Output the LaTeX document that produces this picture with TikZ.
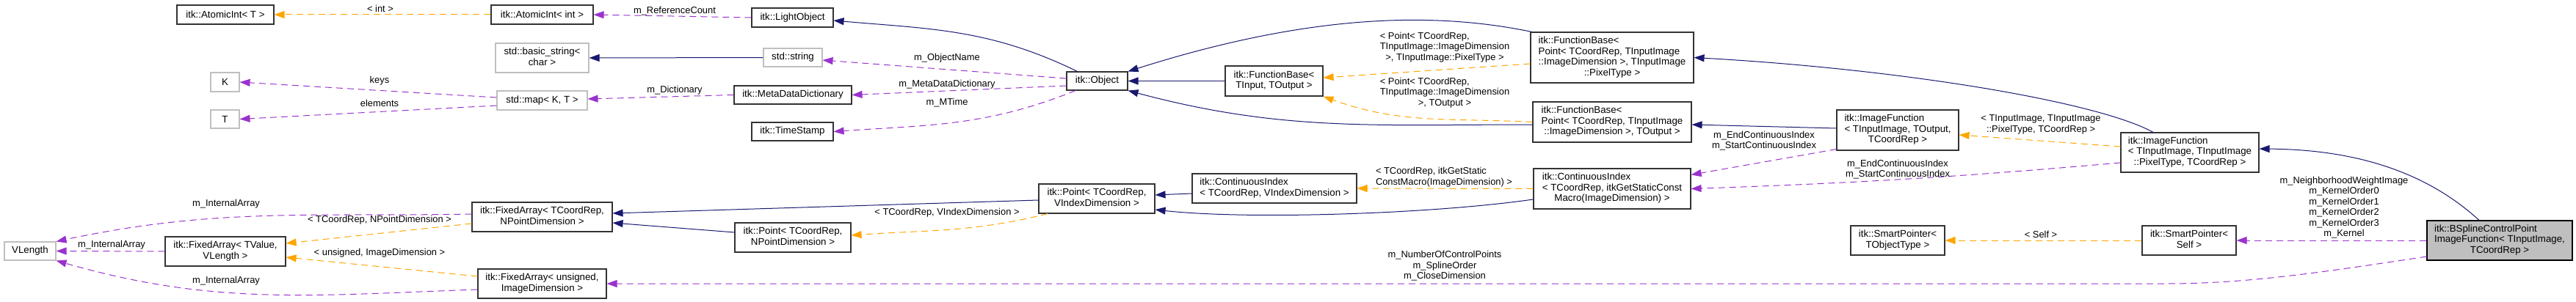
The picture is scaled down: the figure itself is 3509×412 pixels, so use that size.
\documentclass[tikz,border=0pt]{standalone}
\usepackage{fontspec}
\setmainfont{Liberation Sans}
\usetikzlibrary{arrows.meta}
\definecolor{edgeblue}{HTML}{191970}
\definecolor{edgepurple}{HTML}{9A32CD}
\definecolor{edgeorange}{HTML}{FFA500}
\definecolor{boxgray}{HTML}{BFBFBF}
\newcommand{\dlines}[1]{\begin{tabular}{@{}l@{}}#1\end{tabular}}
\newcommand{\dlast}[1]{\multicolumn{1}{@{}c@{}}{#1}}

\begin{document}
\begin{tikzpicture}[x=1pt,y=1pt]
\tikzstyle{every node}+=[inner sep=0pt]
\tikzstyle{cls}=[draw=black!80,line width=1.1pt,fill=white,font=\fontsize{13.3}{14.5}\selectfont]
\tikzstyle{ext}=[cls,draw=boxgray]
\tikzstyle{cur}=[cls,draw=black,fill=boxgray]
\tikzstyle{lbl}=[font=\fontsize{12.9}{14.5}\selectfont,align=center]
\tikzstyle{inherit}=[color=edgeblue,line width=1pt,-{Triangle[length=14pt,width=10pt]}]
\tikzstyle{member}=[color=edgepurple,line width=1pt,dash pattern=on 9pt off 6pt,-{Triangle[length=14pt,width=10pt]}]
\tikzstyle{templ}=[color=edgeorange,line width=1pt,dash pattern=on 9pt off 6pt,-{Triangle[length=14pt,width=10pt]}]
\useasboundingbox (0,0) rectangle (3509,-412);
\node [cls,minimum width=132pt,minimum height=26pt] (atomT) at (307,-20) {itk::AtomicInt< T >};
\node [cls,minimum width=139pt,minimum height=26pt] (atomInt) at (738.5,-20) {itk::AtomicInt< int >};
\node [cls,minimum width=111pt,minimum height=26pt] (light) at (1079.5,-24) {itk::LightObject};
\node [ext,minimum width=39pt,minimum height=26pt] (K) at (306.5,-112) {K};
\node [ext,minimum width=39pt,minimum height=25pt] (Tn) at (306.5,-162.5) {T};
\node [ext,minimum width=127pt,minimum height=40pt] (bstring) at (738.5,-79) {\dlines{std::basic\_string<\\ \dlast{char >}}};
\node [ext,minimum width=123pt,minimum height=26pt] (smap) at (738.5,-137) {std::map< K, T >};
\node [ext,minimum width=80pt,minimum height=25pt] (sstring) at (1080,-78.5) {std::string};
\node [cls,minimum width=160pt,minimum height=25pt] (mdd) at (1080,-129.5) {itk::MetaDataDictionary};
\node [cls,minimum width=111pt,minimum height=25pt] (tstamp) at (1079.5,-179.5) {itk::TimeStamp};
\node [cls,minimum width=83pt,minimum height=25pt] (obj) at (1494.5,-110.5) {itk::Object};
\node [cls,minimum width=133pt,minimum height=41pt] (fbase) at (1735.5,-110.5) {\dlines{itk::FunctionBase<\\ \dlast{TInput, TOutput >}}};
\node [cls,minimum width=222pt,minimum height=69pt] (fbPix) at (2196,-78.5) {\dlines{itk::FunctionBase<\\ Point< TCoordRep, TInputImage\\ ::ImageDimension >, TInputImage\\ \dlast{::PixelType >}}};
\node [cls,minimum width=216pt,minimum height=55pt] (fbOut) at (2196,-166.5) {\dlines{itk::FunctionBase<\\ Point< TCoordRep, TInputImage\\ \dlast{::ImageDimension >, TOutput >}}};
\node [cls,minimum width=224pt,minimum height=40pt] (cidxV) at (1736,-257) {\dlines{itk::ContinuousIndex\\ \dlast{< TCoordRep, VIndexDimension >}}};
\node [cls,minimum width=214pt,minimum height=55pt] (cidxG) at (2196,-257.5) {\dlines{itk::ContinuousIndex\\ < TCoordRep, itkGetStaticConst\\ \dlast{Macro(ImageDimension) >}}};
\node [cls,minimum width=166pt,minimum height=55pt] (imgfOut) at (2585,-177.5) {\dlines{itk::ImageFunction\\ < TInputImage, TOutput,\\ \dlast{TCoordRep >}}};
\node [cls,minimum width=188pt,minimum height=54pt] (imgfPix) at (2983,-208) {\dlines{itk::ImageFunction\\ < TInputImage, TInputImage\\ \dlast{::PixelType, TCoordRep >}}};
\node [cls,minimum width=128pt,minimum height=40pt] (spT) at (2585,-328) {\dlines{itk::SmartPointer<\\ \dlast{TObjectType >}}};
\node [cls,minimum width=128pt,minimum height=40pt] (spSelf) at (2982,-328) {\dlines{itk::SmartPointer<\\ \dlast{Self >}}};
\node [cur,minimum width=198pt,minimum height=54pt] (bspline) at (3405,-328) {\dlines{itk::BSplineControlPoint\\ ImageFunction< TInputImage,\\ \dlast{TCoordRep >}}};
\node [cls,minimum width=158pt,minimum height=40pt] (ptV) at (1494,-271) {\dlines{itk::Point< TCoordRep,\\ \dlast{VIndexDimension >}}};
\node [cls,minimum width=158pt,minimum height=40pt] (ptN) at (1080,-324) {\dlines{itk::Point< TCoordRep,\\ \dlast{NPointDimension >}}};
\node [cls,minimum width=191pt,minimum height=40pt] (faN) at (738.5,-296) {\dlines{itk::FixedArray< TCoordRep,\\ \dlast{NPointDimension >}}};
\node [cls,minimum width=175pt,minimum height=40pt] (faU) at (738.5,-387) {\dlines{itk::FixedArray< unsigned,\\ \dlast{ImageDimension >}}};
\node [cls,minimum width=164pt,minimum height=40pt] (faV) at (307,-343) {\dlines{itk::FixedArray< TValue,\\ \dlast{VLength >}}};
\node [ext,minimum width=70pt,minimum height=25pt] (vlen) at (41,-342.5) {VLength};
\draw [templ] (atomInt.west) -- (atomT.east);
\draw [member] (light.west) -- (atomInt.east);
\draw [inherit] ([xshift=-27pt]obj.north) to[out=154,in=-5] ([yshift=-4pt]light.east);
\draw [member] ([yshift=3.5pt]obj.west) -- ([yshift=-3.5pt]sstring.east);
\draw [inherit] (sstring.west) -- (bstring.east);
\draw [member] ([yshift=-6.5pt]obj.west) -- (mdd.east);
\draw [member] (mdd.west) -- ([yshift=2pt]smap.east);
\draw [member] ([yshift=4pt]smap.west) -- (K.east);
\draw [member] ([yshift=-7pt]smap.west) -- (Tn.east);
\draw [member] ([xshift=-29.5pt]obj.south) to[out=202,in=4] (tstamp.east);
\draw [inherit] (fbase.west) -- (obj.east);
\draw [inherit] ([xshift=2pt]fbPix.north west) .. controls (1950,-15) and (1780,-20) .. (obj.north east);
\draw [inherit] ([yshift=-3.5pt]fbOut.west) to[out=180,in=-15] (obj.south east);
\draw [templ] ([yshift=-8.5pt]fbPix.west) -- ([yshift=4.5pt]fbase.east);
\draw [templ] (fbOut.west) to[out=177,in=-20] (fbase.south east);
\draw [inherit] ([yshift=2.5pt]imgfOut.west) -- ([yshift=-3.5pt]fbOut.east);
\draw [member] ([yshift=2pt]imgfOut.south west) -- ([yshift=-9pt]cidxG.north east);
\draw [templ] ([yshift=8pt]imgfPix.west) -- ([yshift=-6.5pt]imgfOut.east);
\draw [member] ([yshift=-14pt]imgfPix.west) to[out=185,in=2] (cidxG.east);
\draw [inherit] ([xshift=-50pt]imgfPix.north) .. controls (2860,-140) and (2600,-95) .. (fbPix.east);
\draw [inherit] ([xshift=-28pt]bspline.north) .. controls (3300,-230) and (3200,-204) .. ([yshift=5pt]imgfPix.east);
\draw [member] (bspline.west) -- (spSelf.east);
\draw [templ] (spSelf.west) -- (spT.east);
\draw [member] ([yshift=-22pt]bspline.west) .. controls (3160,-372) and (3060,-387) .. (2950,-387) -- (faU.east);
\draw [templ] (cidxG.west) -- (cidxV.east);
\draw [inherit] ([yshift=-7pt]cidxV.west) -- ([yshift=5pt]ptV.east);
\draw [inherit] ([yshift=-14.5pt]cidxG.west) .. controls (1950,-292) and (1700,-300) .. ([yshift=-15pt]ptV.east);
\draw [inherit] ([yshift=-2pt]ptV.west) -- ([yshift=5pt]faN.east);
\draw [inherit] ([yshift=7pt]ptN.west) -- ([yshift=-8pt]faN.east);
\draw [templ] ([xshift=-67pt]ptV.south) to[out=194,in=4] ([yshift=3pt]ptN.east);
\draw [templ] ([yshift=-9pt]faN.west) -- ([yshift=11pt]faV.east);
\draw [templ] ([yshift=10pt]faU.west) -- ([yshift=-8pt]faV.east);
\draw [member] ([yshift=4pt]faN.west) to[out=181,in=12] (vlen.north east);
\draw [member] (faV.west) -- (vlen.east);
\draw [member] ([yshift=-8pt]faU.west) to[out=182,in=-16] (vlen.south east);
\node [lbl] (lInt) at (518,-12) {< int >};
\node [lbl] (lRef) at (919,-15) {m\_ReferenceCount};
\node [lbl] (lName) at (1290,-79) {m\_ObjectName};
\node [lbl] (lMdd) at (1290,-115) {m\_MetaDataDictionary};
\node [lbl] (lTime) at (1290,-140) {m\_MTime};
\node [lbl] (lDict) at (919,-123) {m\_Dictionary};
\node [lbl] (lKeys) at (517,-110) {keys};
\node [lbl] (lElem) at (517,-141) {elements};
\node [lbl] (lPix) at (1968,-65) {\dlines{< Point< TCoordRep,\\ TInputImage::ImageDimension\\ \dlast{>, TInputImage::PixelType >}}};
\node [lbl] (lOut) at (1968,-127) {\dlines{< Point< TCoordRep,\\ TInputImage::ImageDimension\\ \dlast{>, TOutput >}}};
\node [lbl] (lStat) at (1967,-242) {\dlines{< TCoordRep, itkGetStatic\\ \dlast{ConstMacro(ImageDimension) >}}};
\node [lbl] (lIdxA) at (2403,-192) {m\_EndContinuousIndex\\m\_StartContinuousIndex};
\node [lbl] (lIdxB) at (2585,-231) {m\_EndContinuousIndex\\m\_StartContinuousIndex};
\node [lbl] (lImgf) at (2780,-170) {\dlines{< TInputImage, TInputImage\\ \dlast{::PixelType, TCoordRep >}}};
\node [lbl] (lSelf) at (2780,-320) {< Self >};
\node [lbl] (lKern) at (3193,-283) {m\_NeighborhoodWeightImage\\m\_KernelOrder0\\m\_KernelOrder1\\m\_KernelOrder2\\m\_KernelOrder3\\m\_Kernel};
\node [lbl] (lCtrl) at (1968,-363) {m\_NumberOfControlPoints\\m\_SplineOrder\\m\_CloseDimension};
\node [lbl] (lVIdx) at (1290,-290) {< TCoordRep, VIndexDimension >};
\node [lbl] (lNPt) at (517,-300) {< TCoordRep, NPointDimension >};
\node [lbl] (lUns) at (517,-345) {< unsigned, ImageDimension >};
\node [lbl] (lArrA) at (308,-278) {m\_InternalArray};
\node [lbl] (lArrB) at (152,-334) {m\_InternalArray};
\node [lbl] (lArrC) at (308,-383) {m\_InternalArray};
\end{tikzpicture}
\end{document}
